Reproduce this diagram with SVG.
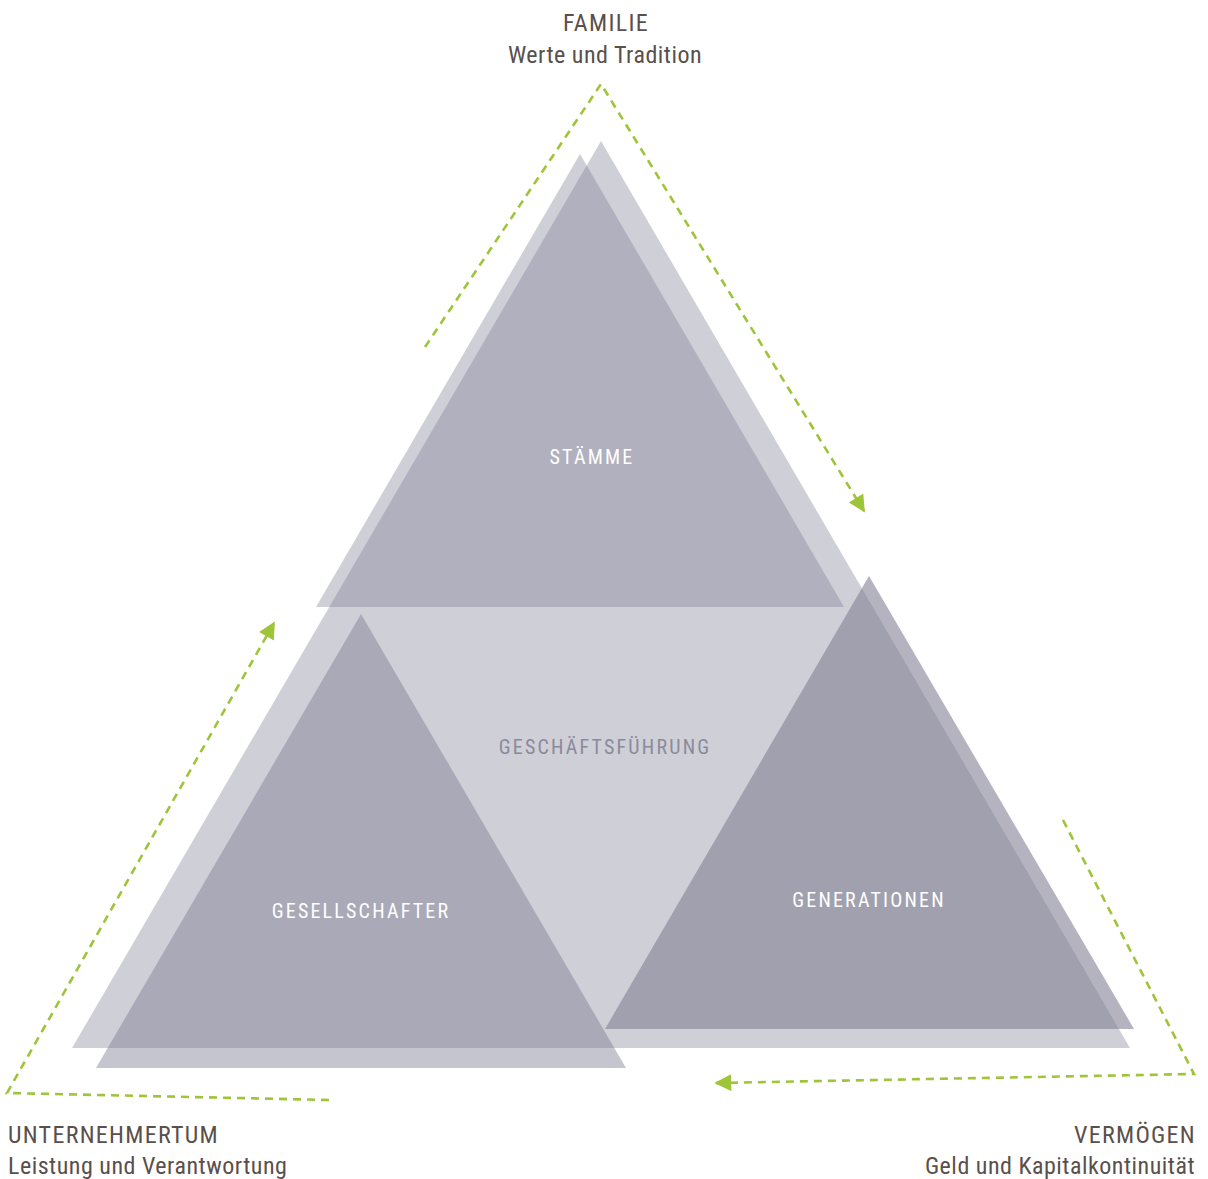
<svg xmlns="http://www.w3.org/2000/svg" width="1208" height="1179" viewBox="0 0 1208 1179">
  <style>
    .lbl { font-family: "Liberation Sans Narrow", "Roboto Condensed", "DejaVu Sans Condensed", "Liberation Sans", sans-serif; fill: #5a4f4b; font-size: 24px; letter-spacing: 0.5px; }
    .cap { letter-spacing: 1.3px; }
    .tri { font-family: "Liberation Sans Narrow", "Roboto Condensed", "DejaVu Sans Condensed", "Liberation Sans", sans-serif; font-size: 20px; letter-spacing: 2.2px; text-anchor: middle; }
    .w { fill: #ffffff; }
    .g { fill: #8b8a9b; }
    .dash { fill: none; stroke: #9ec43a; stroke-width: 2.6; stroke-dasharray: 8 6; stroke-linejoin: miter; }
  </style>
  <defs>
    <marker id="ah" viewBox="0 0 10 10" refX="9" refY="5" markerWidth="7.5" markerHeight="6.5" markerUnits="strokeWidth" orient="auto">
      <path d="M0,0 L10,5 L0,10 z" fill="#9ec43a"/>
    </marker>
  </defs>

  <g id="geschaeftsfuehrung">
    <polygon points="601,141 1130,1048 72,1048" fill="#cfcfd8"/>
    <text class="tri g" x="605" y="754">GESCHÄFTSFÜHRUNG</text>
  </g>

  <g id="staemme">
    <polygon points="580,154 844,607 316,607" fill="#76768f" fill-opacity="0.35"/>
    <text class="tri w" x="592" y="464">STÄMME</text>
  </g>

  <g id="gesellschafter">
    <polygon points="361,614 626,1068 96,1068" fill="#75758d" fill-opacity="0.42"/>
    <text class="tri w" x="361" y="918">GESELLSCHAFTER</text>
  </g>

  <g id="generationen">
    <polygon points="869,576 1134,1029 605,1029" fill="#828094" fill-opacity="0.6"/>
    <text class="tri w" x="869" y="907">GENERATIONEN</text>
  </g>

  <g id="connectors">
    <polyline class="dash" points="425,347 601,84 864,511" marker-end="url(#ah)"/>
    <polyline class="dash" points="1063,820 1194,1074 716,1083" marker-end="url(#ah)"/>
    <polyline class="dash" points="329,1100 7,1093 274,623" marker-end="url(#ah)"/>
  </g>

  <g id="familie">
    <text class="lbl cap" x="606" y="31" text-anchor="middle">FAMILIE</text>
    <text class="lbl" x="605" y="63" text-anchor="middle">Werte und Tradition</text>
  </g>

  <g id="unternehmertum">
    <text class="lbl cap" x="8" y="1143">UNTERNEHMERTUM</text>
    <text class="lbl" x="8" y="1174">Leistung und Verantwortung</text>
  </g>

  <g id="vermoegen">
    <text class="lbl cap" x="1196" y="1143" text-anchor="end">VERMÖGEN</text>
    <text class="lbl" x="1195" y="1174" text-anchor="end">Geld und Kapitalkontinuität</text>
  </g>
</svg>
